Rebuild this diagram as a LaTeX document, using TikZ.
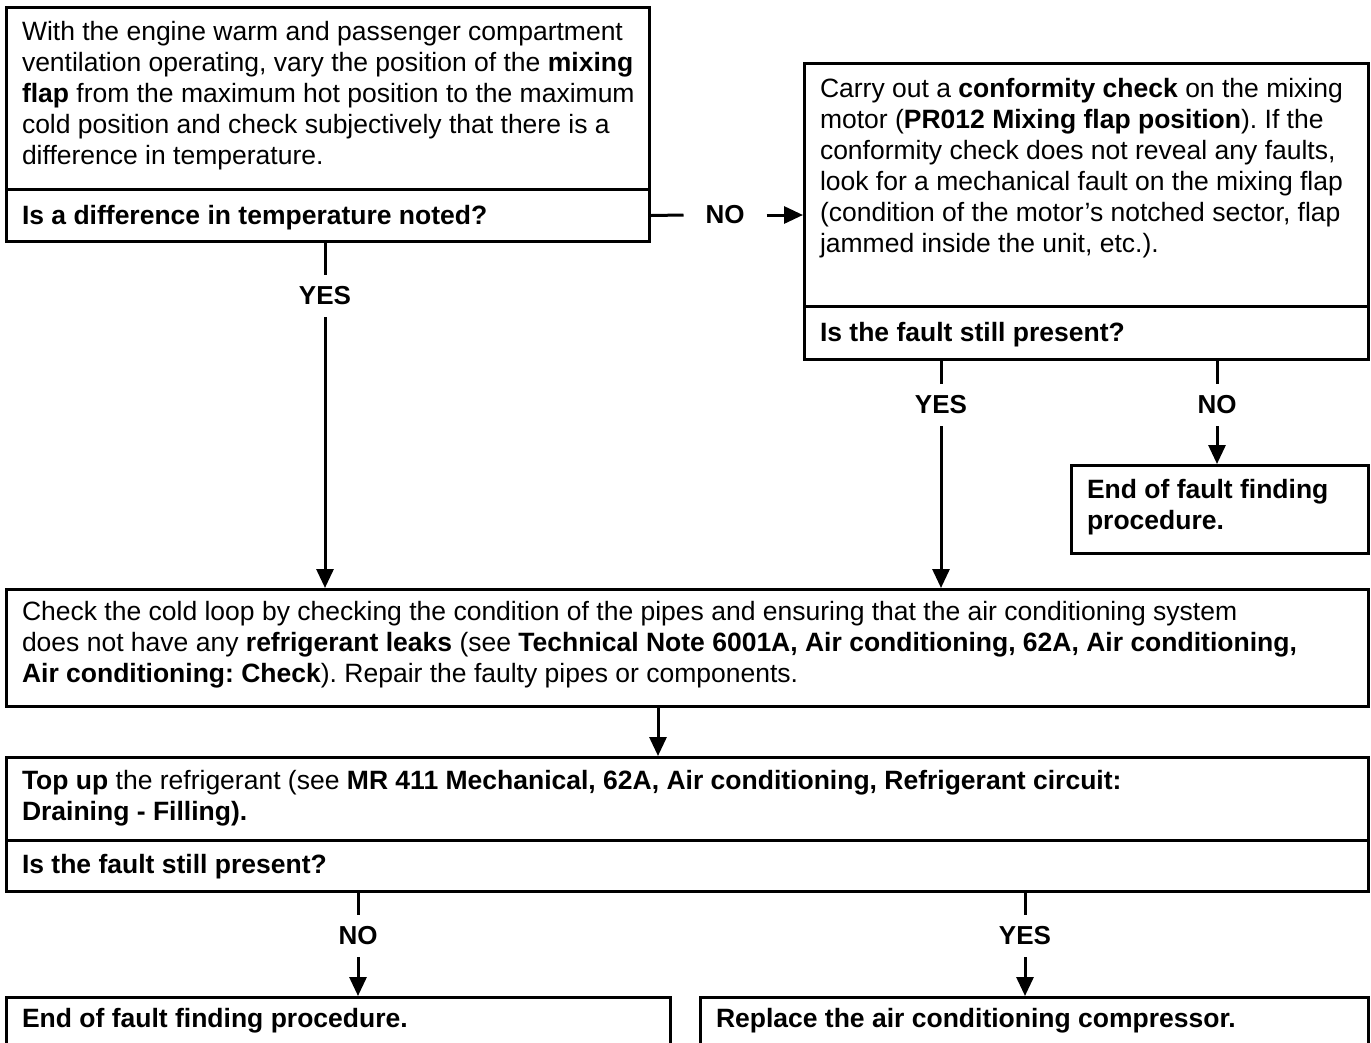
\documentclass[tikz,border=0pt]{standalone}
\usepackage{fontspec}
\setmainfont{Liberation Sans}
\usetikzlibrary{arrows.meta}

% paragraph set in a top-aligned box, so a node's base anchor sits on its first baseline
\newcommand\steptext[2]{\parbox[t]{#1}{\raggedright\frenchspacing\fontsize{26.5}{31}\selectfont #2}}

\begin{document}
\begin{tikzpicture}[x=1pt,y=-1pt,
  frame/.style={draw, line width=3pt, inner sep=0pt, anchor=north west},
  txt/.style={anchor=base west, inner sep=0pt, outer sep=0pt},
  lbl/.style={font=\fontsize{26}{31}\selectfont\bfseries, inner sep=0pt,
              outer xsep=22pt, outer ysep=12pt},
  link/.style={line width=3pt},
  arr/.style={link, -{Triangle[width=17pt,length=19pt]}}]

\clip (0,0) rectangle (1371,1042);
\fill[white] (0,0) rectangle (1371,1042);

% ---- boxes (drawn as fixed-size frames)
\node[frame, minimum width=643pt, minimum height=182pt] (b1)  at (5,6) {};
\node[frame, minimum width=643pt, minimum height=52pt]  (b1q) at (5,188) {};
\node[frame, minimum width=564pt, minimum height=243pt] (b2)  at (803,62) {};
\node[frame, minimum width=564pt, minimum height=53pt]  (b2q) at (803,305) {};
\node[frame, minimum width=297pt, minimum height=88pt]  (b3)  at (1070,464) {};
\node[frame, minimum width=1362pt, minimum height=117pt] (b4) at (5,588) {};
\node[frame, minimum width=1362pt, minimum height=83pt] (b5)  at (5,756) {};
\node[frame, minimum width=1362pt, minimum height=51pt] (b5q) at (5,839) {};
\node[frame, minimum width=664pt, minimum height=80pt]  (b6)  at (5,996) {};
\node[frame, minimum width=668pt, minimum height=80pt]  (b7)  at (699,996) {};

% ---- texts
\node[txt] (t1) at (22,40) {\steptext{620pt}{With the engine warm and passenger compartment\\
ventilation operating, vary the position of the \textbf{mixing}\\
\textbf{flap} from the maximum hot position to the maximum\\
cold position and check subjectively that there is a\\
difference in temperature.}};
\node[txt] (t1q) at (22,224) {\steptext{620pt}{\textbf{Is a difference in temperature noted?}}};

\node[txt] (t2) at (820,97) {\steptext{545pt}{Carry out a \textbf{conformity check} on the mixing\\
motor (\textbf{PR012 Mixing flap position}). If the\\
conformity check does not reveal any faults,\\
look for a mechanical fault on the mixing flap\\
(condition of the motor’s notched sector, flap\\
jammed inside the unit, etc.).}};
\node[txt] (t2q) at (820,341) {\steptext{545pt}{\textbf{Is the fault still present?}}};

\node[txt] (t3) at (1087,498) {\steptext{280pt}{\textbf{End of fault finding}\\
\textbf{procedure.}}};

\node[txt] (t4) at (22,620) {\steptext{1340pt}{Check the cold loop by checking the condition of the pipes and ensuring that the air conditioning system\\
does not have any \textbf{refrigerant leaks} (see \textbf{Technical Note 6001A, Air conditioning, 62A, Air conditioning,}\\
\textbf{Air conditioning: Check}). Repair the faulty pipes or components.}};

\node[txt] (t5) at (22,789) {\steptext{1340pt}{\textbf{Top up} the refrigerant (see \textbf{MR 411 Mechanical, 62A, Air conditioning, Refrigerant circuit:}\\
\textbf{Draining - Filling).}}};
\node[txt] (t5q) at (22,873) {\steptext{1340pt}{\textbf{Is the fault still present?}}};

\node[txt] (t6) at (22,1027) {\steptext{640pt}{\textbf{End of fault finding procedure.}}};
\node[txt] (t7) at (716,1027) {\steptext{640pt}{\textbf{Replace the air conditioning compressor.}}};

% ---- branch labels
\node[lbl] (noA)  at (725,215)  {NO};
\node[lbl] (yesA) at (325,296)  {YES};
\node[lbl] (yesB) at (941,405)  {YES};
\node[lbl] (noB)  at (1217,405) {NO};
\node[lbl] (noC)  at (358,936)  {NO};
\node[lbl] (yesC) at (1025,936) {YES};
\coordinate (mid) at (658,0);

% ---- connectors
\draw[link] (b1q.east) -- (noA.west);
\draw[arr]  (noA.east) -- (noA.east -| b2.west);

\draw[link] (yesA |- b1q.south) -- (yesA.north);
\draw[arr]  (yesA.south) -- (yesA |- b4.north);

\draw[link] (yesB |- b2q.south) -- (yesB.north);
\draw[arr]  (yesB.south) -- (yesB |- b4.north);

\draw[link] (noB |- b2q.south) -- (noB.north);
\draw[arr]  (noB.south) -- (noB |- b3.north);

\draw[arr]  (mid |- b4.south) -- (mid |- b5.north);

\draw[link] (noC |- b5q.south) -- (noC.north);
\draw[arr]  (noC.south) -- (noC |- b6.north);

\draw[link] (yesC |- b5q.south) -- (yesC.north);
\draw[arr]  (yesC.south) -- (yesC |- b7.north);
\end{tikzpicture}
\end{document}
